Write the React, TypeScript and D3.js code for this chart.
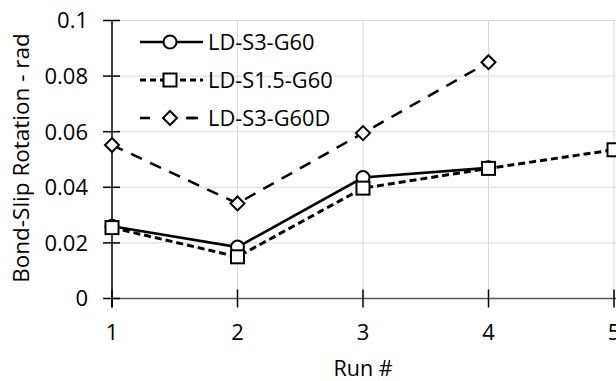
import React from "react";
import * as d3 from "d3";

const runs = [1, 2, 3, 4, 5];
const seriesNames = ["LD-S3-G60", "LD-S1.5-G60", "LD-S3-G60D"];
const s3g60 = [0.026, 0.0185, 0.0435, 0.047];
const s15g60 = [0.0255, 0.015, 0.0397, 0.0468, 0.0535];
const s3g60d = [0.0552, 0.0342, 0.0595, 0.085];
const yTicks = [0, 0.02, 0.04, 0.06, 0.08, 0.1];
const yTickLabels = ["0", "0.02", "0.04", "0.06", "0.08", "0.1"];
const xTitle = "Run #";
const yTitle = "Bond-Slip Rotation - rad";

const W = 616;
const H = 381;
const FONT = "'Open Sans', sans-serif";

type Style = { dash: string; width: number; marker: "circle" | "square" | "diamond" };
const styles: Style[] = [
  { dash: "none", width: 2.6, marker: "circle" },
  { dash: "7,4", width: 3, marker: "square" },
  { dash: "12,9", width: 2.5, marker: "diamond" },
];

function Marker({ kind, x, y }: { kind: string; x: number; y: number }) {
  if (kind === "circle")
    return <circle cx={x} cy={y} r={6.5} fill="#fff" stroke="#000" strokeWidth={2} />;
  if (kind === "square")
    return <rect x={x - 6.5} y={y - 6.5} width={13} height={13} fill="#fff" stroke="#000" strokeWidth={2} />;
  const r = 7;
  return (
    <path
      d={`M${x},${y - r}L${x + r},${y}L${x},${y + r}L${x - r},${y}Z`}
      fill="#fff"
      stroke="#000"
      strokeWidth={2}
    />
  );
}

export default function App() {
  const x = d3.scaleLinear().domain([1, 5]).range([112, 614]);
  const y = d3.scaleLinear().domain([0, 0.1]).range([298.5, 20.5]);
  const data = [s3g60, s15g60, s3g60d];
  const line = d3
    .line<number>()
    .x((_, i) => x(runs[i]))
    .y((d) => y(d));

  const legendRows = [42, 80, 118];

  return (
    <svg
      width={W}
      height={H}
      style={{ position: "absolute", left: 0, top: 0, background: "#fff" }}
      fontFamily={FONT}
    >
      <rect x={0} y={0} width={W} height={H} fill="#fff" />
      {/* gridlines */}
      {yTicks.slice(1).map((t) => (
        <line key={"hg" + t} x1={x(1)} x2={W} y1={y(t)} y2={y(t)} stroke="#d9d9d9" strokeWidth={1} />
      ))}
      {runs.slice(1).map((r) => (
        <line key={"vg" + r} x1={x(r)} x2={x(r)} y1={y(0.1)} y2={y(0)} stroke="#d9d9d9" strokeWidth={1} />
      ))}
      {/* axes */}
      <line x1={x(1)} x2={W} y1={y(0)} y2={y(0)} stroke="#595959" strokeWidth={1.5} />
      <line x1={x(1)} x2={x(1)} y1={y(0.1)} y2={y(0) + 9} stroke="#000" strokeWidth={1.5} />
      {yTicks.map((t) => (
        <line key={"yt" + t} x1={x(1) - 9} x2={x(1) + 8} y1={y(t)} y2={y(t)} stroke="#000" strokeWidth={1.5} />
      ))}
      {runs.map((r) => (
        <line key={"xt" + r} x1={x(r)} x2={x(r)} y1={y(0) - 9} y2={y(0) + 9} stroke="#000" strokeWidth={1.5} />
      ))}
      {/* tick labels */}
      {yTicks.map((t, i) => (
        <text key={"yl" + t} x={88} y={y(t)} dy="0.36em" textAnchor="end" fontSize={22} fill="#000">
          {yTickLabels[i]}
        </text>
      ))}
      {runs.map((r) => (
        <text key={"xl" + r} x={x(r)} y={340} textAnchor="middle" fontSize={22} fill="#000">
          {r}
        </text>
      ))}
      {/* titles */}
      <text x={x(3)} y={376} textAnchor="middle" fontSize={21.5} fill="#000">
        {xTitle}
      </text>
      <text
        transform={`translate(29,${158}) rotate(-90)`}
        textAnchor="middle"
        fontSize={22.5}
        fill="#000"
      >
        {yTitle}
      </text>
      {/* series */}
      {data.map((vals, si) => (
        <path
          key={"s" + si}
          d={line(vals) || ""}
          fill="none"
          stroke="#000"
          strokeWidth={styles[si].width}
          strokeDasharray={styles[si].dash}
        />
      ))}
      {data.map((vals, si) =>
        vals.map((v, i) => <Marker key={`m${si}-${i}`} kind={styles[si].marker} x={x(runs[i])} y={y(v)} />)
      )}
      {/* legend */}
      {seriesNames.map((name, si) => (
        <g key={"lg" + si}>
          <line
            x1={140}
            x2={203}
            y1={legendRows[si]}
            y2={legendRows[si]}
            stroke="#000"
            strokeWidth={styles[si].width}
            strokeDasharray={si === 2 ? "10,36" : si === 1 ? "6,4" : "none"}
          />
          {si === 2 && (
            <line x1={187} x2={198} y1={legendRows[si]} y2={legendRows[si]} stroke="#000" strokeWidth={styles[si].width} />
          )}
          <Marker kind={styles[si].marker} x={170} y={legendRows[si]} />
          <text x={208} y={legendRows[si]} dy="0.36em" fontSize={21.8} fill="#000">
            {name}
          </text>
        </g>
      ))}
    </svg>
  );
}
